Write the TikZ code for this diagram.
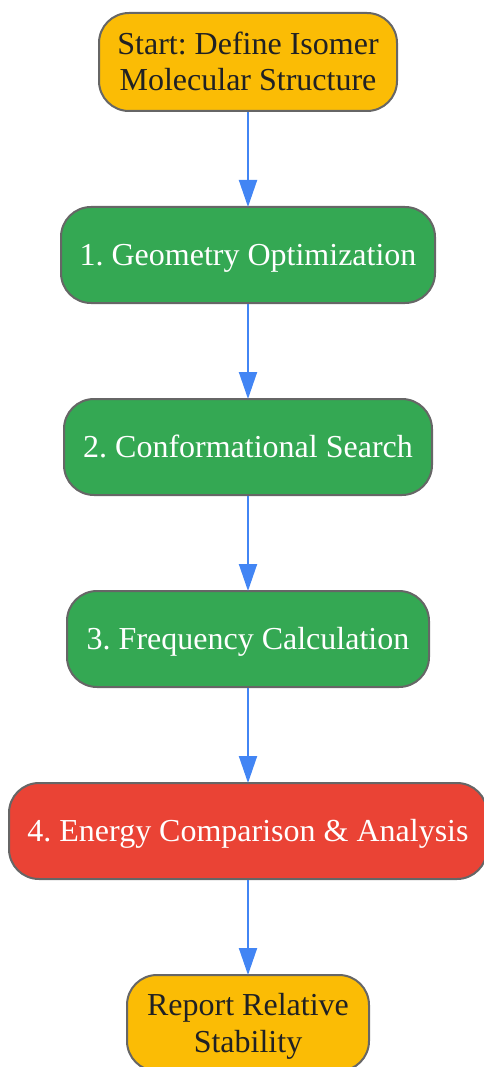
\documentclass[tikz,border=0pt]{standalone}
\usepackage{fontspec}
\setmainfont{Liberation Serif}
\usetikzlibrary{arrows.meta}
\definecolor{gyellow}{HTML}{FBBC05}
\definecolor{ggreen}{HTML}{34A853}
\definecolor{gred}{HTML}{EA4335}
\definecolor{gblue}{HTML}{4285F4}
\definecolor{gborder}{HTML}{666666}
\definecolor{gtext}{HTML}{202124}
\frenchspacing
\newcommand\lstrut{\rule[-7.5pt]{0pt}{36.5pt}}
\tikzset{
  box/.style={draw=gborder, line width=2pt, rounded corners=30pt, align=center,
    inner sep=0pt, font=\fontsize{32pt}{36.5pt}\selectfont\frenchspacing},
  ybox/.style={box, fill=gyellow, text=gtext},
  gbox/.style={box, fill=ggreen, text=white},
  rbox/.style={box, fill=gred, text=white},
  conn/.style={draw=gblue, line width=2pt, -{Triangle[length=27pt,width=18pt]}, shorten >=-1pt},
}
\begin{document}
\begin{tikzpicture}[x=1pt,y=-1pt]
\useasboundingbox (0,0) rectangle (483,1067);
\node[ybox, minimum width=298pt, minimum height=98pt] (s) at (248,62) {\lstrut Start: Define Isomer\\\lstrut Molecular Structure};
\node[gbox, minimum width=374pt, minimum height=96pt] (a) at (248,255) {\lstrut 1. Geometry Optimization};
\node[gbox, minimum width=368pt, minimum height=96pt] (b) at (248,447) {\lstrut 2. Conformational Search};
\node[gbox, minimum width=362pt, minimum height=96pt] (c) at (248,639) {\lstrut 3. Frequency Calculation};
\node[rbox, minimum width=478pt, minimum height=96pt] (d) at (248,831) {\lstrut 4. Energy Comparison \& Analysis};
\node[ybox, minimum width=242pt, minimum height=96pt] (e) at (248,1023) {\lstrut Report Relative\\\lstrut Stability};
\draw[conn] (s) -- (a);
\draw[conn] (a) -- (b);
\draw[conn] (b) -- (c);
\draw[conn] (c) -- (d);
\draw[conn] (d) -- (e);
\end{tikzpicture}
\end{document}
